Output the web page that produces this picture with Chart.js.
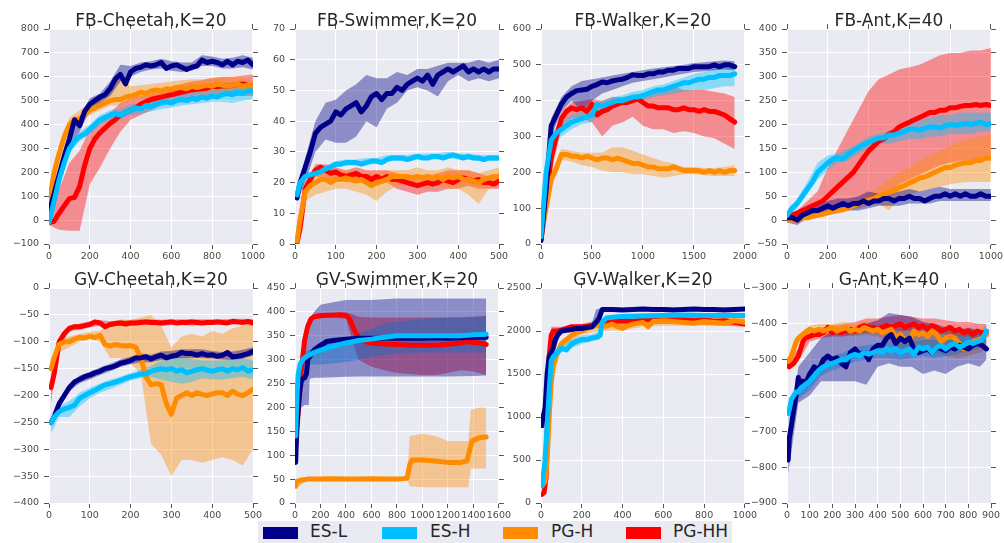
<!DOCTYPE html>
<html>
<head>
<meta charset="utf-8">
<script src="https://cdn.jsdelivr.net/npm/chart.js@4.4.1/dist/chart.umd.min.js"></script>
<style>
  body { margin: 0; background: #ffffff; }
  #wrap { position: relative; width: 1004px; height: 543px; overflow: hidden; }
  #wrap canvas { position: absolute; }
  #legend { position: absolute; left: 258px; top: 521px; width: 474px; height: 22px; background: #eaeaf2; }
  .sw { position: absolute; top: 6px; width: 35px; height: 12px; }
  .lab { position: absolute; top: 0; line-height: 22px; font: 17px "DejaVu Sans"; color: #262626; }
</style>
</head>
<body>
<div id="wrap"><div id="legend"></div></div>
<script>
// shared x grids
const x1000 = [0,25,50,75,100,125,150,175,200,225,250,275,300,325,350,375,400,425,450,475,500,525,550,575,600,625,650,675,700,725,750,775,800,825,850,875,900,925,950,975,1000];
const x1000Band = [0,50,100,150,200,250,300,350,400,450,500,550,600,650,700,750,800,850,900,950,1000];
const x500 = [5,12.5,25,37.5,50,62.5,75,87.5,100,112.5,125,137.5,150,162.5,175,187.5,200,212.5,225,237.5,250,262.5,275,287.5,300,312.5,325,337.5,350,362.5,375,387.5,400,412.5,425,437.5,450,462.5,475,487.5,500];
const x500Band = [5,25,50,75,100,125,150,175,200,225,250,275,300,325,350,375,400,425,450,475,500];
const x1900 = [0,50,100,150,200,250,300,350,400,450,500,550,600,650,700,750,800,850,900,950,1000,1050,1100,1150,1200,1250,1300,1350,1400,1450,1500,1550,1600,1650,1700,1750,1800,1850,1900];
const x1900Band = [0,100,200,300,400,500,600,700,800,900,1000,1100,1200,1300,1400,1500,1600,1700,1800,1900];

// FB-Cheetah
const fbcEsL = [30,110,190,270,340,420,395,455,485,500,515,525,550,590,610,570,620,635,640,650,645,650,660,635,645,650,640,630,640,645,670,660,665,660,650,665,650,665,660,670,650];
const fbcEsLLo = [10,170,310,370,460,490,520,580,600,620,630,635,625,620,625,645,645,635,635,640,630];
const fbcEsLHi = [50,210,370,430,510,530,580,650,645,660,665,675,665,660,660,690,685,675,680,690,680];
const fbcEsH = [-10,80,170,240,300,330,350,360,380,400,420,430,440,445,440,450,460,470,465,480,475,485,490,495,490,500,505,500,510,505,515,510,520,515,525,530,525,535,530,540,540];
const fbcEsHLo = [-30,150,280,330,360,400,420,420,440,445,455,465,470,480,485,490,495,495,490,500,505];
const fbcEsHHi = [10,190,320,370,400,440,460,465,485,490,500,515,515,530,535,540,545,555,555,560,565];
const fbcPgH = [70,200,280,350,400,420,425,440,460,470,480,490,500,505,505,515,520,525,535,530,540,545,540,550,545,555,555,550,560,555,560,565,560,570,565,560,565,570,560,565,560];
const fbcPgHLo = [50,250,380,410,440,460,480,480,495,505,510,515,520,525,530,530,535,530,535,530,530];
const fbcPgHHi = [90,310,430,460,490,520,550,600,560,565,570,575,580,585,590,590,595,595,595,595,590];
const fbcPgHH = [-10,-5,30,60,90,95,140,230,300,340,365,385,405,420,440,450,460,470,485,495,505,510,515,520,525,530,535,540,545,548,550,552,560,558,562,560,565,568,570,565,560];
const fbcPgHHLo = [-20,-40,-45,-45,150,220,300,370,420,440,460,480,490,500,505,510,515,520,520,520,520];
const fbcPgHHHi = [10,130,240,290,380,420,450,490,510,520,530,545,560,570,580,585,595,600,600,605,610];

// FB-Swimmer
const fbsEsL = [15,20,25,30,36,38,39,40,43,42,44,45,46,43,45,48,49,47,49,49,51,50,52,53,54,53,55,52,55,56,57,56,57,58,56,57,56,57,56,57,57];
const fbsEsLLo = [14,20,30,34,33,33,35,40,38,44,46,50,51,50,48,53,55,53,54,53,54];
const fbsEsLHi = [17,28,40,46,47,50,52,55,54,54,56,55,57,57,58,59,59,59,60,59,60];
const fbsEsH = [16,20,22,22.5,23,23.5,24.5,25,26,26,26.5,26.5,26.5,26,26.5,27,27,26.5,27.5,28,28,28,27.5,28,28.5,28,28,28.5,28.5,28,28.5,29,28.5,28,28.5,28,28,27.5,28,28,28];
const fbsEsHLo = [15,21,22,23.5,25,25.5,25.5,26,26,27,27,27,27.5,27.5,27.5,28,27.5,27.5,27,27,27];
const fbsEsHHi = [17,23,24,25.5,27,27.5,27.5,28,28,29,29,29,29.5,29.5,29.5,30,29.5,29.5,29,29,29];
const fbsPgH = [1,8,17,19,20,21,21,20,21,21,21.5,21,20.5,21,20,19,20,20.5,21,22,22,22,22,21.5,22,21.5,22,21.5,22,21,22,21.5,22,21,21,20.5,20,21,21.5,22,22];
const fbsPgHLo = [0,14,16,17,18,18,17,16,14,17,19,19,19,18,19,18,18,16,13,18,19];
const fbsPgHHi = [2,20,23,25,24,24,24,23,23,24,24,24,25,24,24,25,24,24,23,24,25];
const fbsPgHH = [0.5,5,18,21,24,25,24,23,23.5,22.5,22,22.5,23,22,22,21,22,21,22,21,21,20.5,20,19.5,19,19.5,20,19.5,20,21,20.5,20,21,21.5,21,20.5,21,20,20,19.5,20.5];
const fbsPgHHLo = [0,16,22,21,21,20,20,20,19,20,18,17,16,17,17,18,18,19,18,18,18];
const fbsPgHHHi = [1,20,26,26,25,24,25,24,24,24,23,22,22,22,23,24,24,24,23,22,23];

// FB-Walker
const fbwEsL = [10,150,330,360,390,410,420,428,430,432,440,445,452,450,455,458,460,465,472,470,470,475,475,480,480,485,485,490,490,490,495,495,495,495,500,495,500,500,495];
const fbwEsLLo = [5,300,370,400,370,400,420,430,440,450,455,460,465,470,475,480,482,485,487,485];
const fbwEsLHi = [15,350,410,440,455,460,465,470,475,480,485,490,493,497,500,505,507,510,512,510];
const fbwEsH = [20,200,290,310,320,330,340,345,350,355,360,390,385,390,395,400,400,405,410,410,415,420,425,430,430,435,440,445,450,450,455,460,460,465,465,470,470,470,475];
const fbwEsHLo = [10,270,300,320,335,340,370,380,385,395,400,410,415,420,425,430,430,435,440,440];
const fbwEsHHi = [30,310,340,360,370,380,400,410,415,425,430,440,445,455,465,475,480,490,495,500];
const fbwPgH = [20,100,180,210,250,250,245,245,240,245,240,235,240,240,235,240,235,230,225,225,220,215,215,210,210,210,215,210,205,205,205,205,200,205,200,205,200,205,205];
const fbwPgHLo = [10,160,235,230,220,215,205,200,200,195,195,190,185,190,195,195,192,190,190,190];
const fbwPgHHi = [30,200,265,260,255,255,255,270,270,260,250,240,230,225,215,215,212,212,215,220];
const fbwPgHH = [10,120,240,300,350,370,380,375,380,370,390,360,370,375,385,390,395,395,400,405,395,385,385,380,380,380,375,375,380,375,375,370,375,370,370,365,360,350,340];
const fbwPgHHLo = [5,200,320,350,350,340,300,330,340,355,330,320,320,310,315,310,300,295,280,265];
const fbwPgHHHi = [20,280,370,395,400,405,400,410,410,415,420,430,430,440,430,430,430,425,420,410];

// FB-Ant
const fbaEsL = [5,5,0,10,15,20,20,25,30,25,30,35,30,35,35,40,35,40,40,45,45,40,45,45,50,45,45,40,45,50,50,55,50,55,50,55,50,50,55,50,50];
const fbaEsLLo = [-5,-10,5,10,15,20,20,20,25,30,30,30,35,35,35,40,40,40,40,40,40];
const fbaEsLHi = [10,10,25,30,40,45,45,50,60,55,55,60,65,60,65,70,65,65,65,65,65];
const fbaEsH = [10,25,35,50,65,80,100,110,120,128,130,128,138,145,152,158,163,167,172,172,178,178,182,185,190,190,188,192,195,195,193,197,200,198,200,202,200,203,205,200,202];
const fbaEsHLo = [0,25,55,85,105,120,125,140,150,160,160,165,170,170,175,175,180,180,180,185,185];
const fbaEsHHi = [15,45,80,120,135,140,150,160,175,180,185,195,205,210,215,220,220,225,225,225,225];
const fbaPgH = [0,0,0,5,5,8,10,12,15,18,20,22,25,30,35,38,42,45,50,55,58,62,68,72,78,82,88,90,95,100,105,110,110,115,118,120,120,125,125,130,130];
const fbaPgHLo = [-5,-5,0,5,10,15,20,25,30,35,20,45,55,60,65,70,75,78,80,80,80];
const fbaPgHHi = [5,5,10,15,20,25,30,45,55,70,85,100,110,125,135,145,155,165,170,175,180];
const fbaPgHH = [5,10,15,20,25,30,35,40,50,60,70,80,90,100,115,130,145,155,165,170,180,185,195,200,205,210,215,220,225,225,230,230,235,235,238,240,240,242,240,242,240];
const fbaPgHHLo = [0,5,10,10,15,20,25,30,40,50,60,75,85,95,105,115,120,125,125,125,125];
const fbaPgHHHi = [10,20,40,60,110,150,190,230,270,295,305,315,320,325,335,345,350,350,355,355,360];

// GV-Cheetah
const gvcEsL = [-250,-240,-215,-200,-185,-175,-170,-165,-162,-158,-155,-150,-148,-145,-140,-138,-135,-130,-130,-128,-132,-128,-125,-130,-127,-125,-120,-122,-122,-125,-122,-125,-124,-127,-125,-120,-128,-127,-125,-122,-118];
const gvcEsLLo = [-258,-222,-192,-177,-170,-162,-155,-147,-142,-138,-138,-134,-131,-130,-130,-130,-131,-133,-134,-131,-126];
const gvcEsLHi = [-242,-208,-178,-163,-156,-148,-141,-133,-128,-122,-124,-118,-117,-114,-114,-114,-117,-119,-118,-115,-110];
const gvcEsH = [-250,-240,-230,-225,-222,-218,-205,-200,-195,-190,-185,-180,-178,-175,-172,-168,-165,-163,-160,-160,-155,-152,-150,-152,-150,-155,-152,-158,-155,-152,-150,-153,-155,-152,-150,-155,-150,-152,-148,-155,-152];
const gvcEsHLo = [-270,-240,-240,-220,-205,-195,-188,-180,-172,-168,-165,-170,-175,-178,-175,-168,-170,-170,-168,-165,-170];
const gvcEsHHi = [-240,-220,-210,-195,-185,-178,-170,-165,-158,-152,-145,-135,-130,-128,-132,-135,-135,-135,-133,-130,-135];
const gvcPgH = [-150,-130,-105,-100,-100,-95,-92,-93,-90,-92,-88,-105,-108,-105,-107,-108,-107,-110,-130,-165,-180,-178,-180,-215,-235,-205,-200,-195,-200,-195,-198,-200,-197,-195,-195,-200,-192,-198,-200,-195,-188];
const gvcPgHLo = [-160,-120,-110,-100,-95,-100,-130,-130,-140,-160,-290,-310,-350,-320,-320,-325,-320,-315,-320,-330,-300];
const gvcPgHHi = [-140,-95,-90,-85,-82,-80,-65,-58,-60,-55,-50,-70,-110,-90,-85,-90,-80,-85,-75,-70,-65];
const gvcPgHH = [-185,-160,-100,-85,-75,-72,-72,-70,-68,-63,-65,-72,-68,-66,-65,-67,-65,-65,-64,-63,-64,-64,-65,-64,-63,-65,-64,-64,-63,-64,-65,-64,-64,-63,-64,-65,-62,-63,-64,-62,-65];
const gvcPgHHLo = [-215,-110,-80,-78,-73,-70,-72,-70,-70,-69,-69,-70,-69,-69,-70,-69,-69,-68,-68,-68,-70];
const gvcPgHHHi = [-165,-92,-70,-66,-62,-60,-62,-60,-59,-58,-58,-59,-58,-58,-58,-58,-58,-58,-57,-57,-58];

// GV-Swimmer
const gvsEsLX = [5,15,25,40,50,60,75,90,100,125,150,200,250,300,400,500,600,700,800,900,1000,1100,1200,1300,1400,1500];
const gvsEsL = [85,160,200,240,255,260,262,270,300,310,320,330,338,340,343,345,345,345,345,345,345,346,345,346,347,347];
const gvsEsLBandX = [5,25,50,75,100,108,115,150,200,300,400,500,600,800,1000,1200,1400,1500];
const gvsEsLLo = [80,150,200,205,205,205,260,262,262,263,264,265,265,265,265,265,266,267];
const gvsEsLHi = [90,230,300,330,370,380,385,400,415,420,425,425,425,428,428,428,428,428];
const gvsEsHX = [5,15,25,40,60,80,100,150,200,300,400,500,600,700,800,900,1000,1100,1200,1300,1400,1500];
const gvsEsH = [140,220,270,290,300,305,308,315,320,328,335,340,343,347,350,350,350,350,350,350,352,353];
const gvsEsHBandX = [5,50,100,200,300,400,500,600,700,800,1000,1200,1400,1500];
const gvsEsHLo = [130,285,290,290,292,295,300,305,310,312,315,315,315,315];
const gvsEsHHi = [150,310,320,330,338,345,355,365,375,380,385,388,390,390];
const gvsPgHX = [5,15,50,100,200,300,400,500,600,700,800,850,880,900,920,950,1000,1100,1200,1300,1350,1370,1390,1450,1500];
const gvsPgH = [35,45,48,50,50,51,50,50,51,50,50,51,52,80,90,90,90,88,85,85,88,110,130,137,138];
const gvsPgHBandX = [5,100,500,880,900,1000,1100,1200,1360,1380,1450,1500];
const gvsPgHLo = [30,47,47,48,35,33,33,33,33,72,72,72];
const gvsPgHHi = [40,53,53,53,140,145,140,130,130,195,200,200];
const gvsPgHHX = [5,25,50,75,100,125,150,200,250,300,350,400,430,460,500,550,600,700,800,900,1000,1100,1200,1300,1350,1400,1450,1500];
const gvsPgHH = [120,190,280,340,370,385,390,392,393,393,394,393,385,365,345,338,335,333,332,330,330,330,332,335,338,336,335,332];
const gvsPgHHBandX = [5,50,100,150,200,300,400,450,500,600,700,800,900,1000,1100,1200,1300,1400,1500];
const gvsPgHHLo = [110,260,360,385,388,388,385,340,300,285,278,272,270,268,268,272,278,275,268];
const gvsPgHHHi = [130,300,380,395,397,398,398,395,390,388,388,388,388,388,388,388,388,390,392];

// GV-Walker
const gvwEsLX = [5,10,20,30,40,50,60,70,80,100,125,150,175,200,225,250,270,285,300,350,400,450,500,550,600,650,700,750,800,850,900,950,1000];
const gvwEsL = [900,1000,1100,1500,1700,1750,1800,1900,1950,2000,2010,2020,2030,2030,2040,2050,2100,2150,2250,2250,2245,2250,2255,2250,2250,2245,2250,2255,2250,2250,2245,2250,2255];
const gvwEsLBandX = [5,50,100,200,250,270,300,400,600,800,1000];
const gvwEsLLo = [850,1700,1970,2000,2020,2050,2220,2230,2230,2230,2235];
const gvwEsLHi = [1050,1800,2030,2060,2100,2250,2270,2270,2275,2270,2275];
const gvwEsHX = [5,10,20,30,40,50,60,80,100,125,150,175,200,225,250,275,290,300,320,350,400,500,600,700,800,900,1000];
const gvwEsH = [200,300,500,900,1300,1650,1700,1750,1800,1780,1850,1880,1900,1900,1920,1930,1950,2100,2150,2160,2170,2175,2180,2185,2180,2180,2180];
const gvwEsHBandX = [5,50,100,150,200,250,290,300,400,600,800,1000];
const gvwEsHLo = [150,1600,1750,1800,1850,1880,1900,2050,2140,2150,2150,2150];
const gvwEsHHi = [250,1700,1850,1900,1950,1960,2000,2150,2200,2210,2210,2210];
const gvwPgHX = [5,20,30,40,50,60,80,100,125,150,175,200,250,270,300,325,350,375,400,425,450,500,525,550,600,650,700,750,800,850,900,950,1000];
const gvwPgH = [200,250,500,1000,1400,1600,1750,1850,1900,1950,1980,2000,2050,2080,2050,2060,2080,2050,2030,2060,2080,2100,2050,2110,2120,2110,2100,2090,2110,2100,2090,2120,2100];
const gvwPgHBandX = [5,50,100,200,300,400,500,600,800,1000];
const gvwPgHLo = [150,1350,1800,1960,2000,2010,2050,2060,2060,2060];
const gvwPgHHi = [250,1450,1900,2040,2100,2100,2150,2160,2160,2150];
const gvwPgHHX = [5,15,25,30,35,40,50,60,80,100,150,200,250,300,350,400,450,500,550,600,650,700,750,800,850,900,950,1000];
const gvwPgHH = [100,120,300,800,1400,1700,1950,2000,2000,2010,2050,2050,2060,2100,2110,2120,2110,2130,2140,2130,2150,2130,2120,2130,2110,2120,2100,2080];
const gvwPgHHBandX = [5,50,100,200,300,500,700,1000];
const gvwPgHHLo = [80,1850,1970,2000,2050,2080,2080,2050];
const gvwPgHHHi = [150,2050,2050,2080,2140,2160,2160,2140];

// G-Ant
const gaX = [5,10,20,30,40,50,60,70,80,100,120,140,160,180,200,220,240,260,280,300,320,340,360,380,400,420,440,460,480,500,520,540,560,580,600,620,640,660,680,700,720,740,760,780,800,820,840,860,880];
const gaBandX = [5,50,100,150,200,250,300,350,400,450,500,550,600,650,700,750,800,850,880];
const gaEsL = [-780,-720,-680,-640,-600,-550,-580,-560,-570,-540,-520,-530,-500,-490,-500,-495,-510,-520,-480,-470,-485,-480,-500,-470,-460,-460,-440,-430,-455,-440,-450,-440,-470,-480,-475,-470,-480,-465,-470,-475,-465,-470,-460,-465,-470,-460,-455,-460,-470];
const gaEsLLo = [-820,-620,-600,-560,-560,-560,-560,-570,-520,-510,-520,-520,-540,-530,-540,-520,-510,-520,-500];
const gaEsLHi = [-740,-520,-480,-440,-420,-430,-410,-400,-390,-370,-375,-380,-395,-400,-410,-420,-410,-420,-430];
const gaEsH = [-650,-640,-610,-600,-590,-590,-580,-575,-570,-560,-545,-530,-520,-515,-510,-505,-500,-500,-490,-485,-490,-480,-485,-480,-475,-480,-470,-475,-470,-480,-475,-470,-485,-465,-470,-465,-480,-465,-460,-470,-460,-455,-465,-460,-450,-455,-450,-445,-420];
const gaEsHLo = [-680,-610,-585,-545,-530,-520,-505,-500,-495,-495,-500,-495,-490,-495,-490,-485,-475,-470,-450];
const gaEsHHi = [-620,-570,-540,-500,-490,-480,-465,-460,-455,-450,-455,-450,-445,-445,-440,-435,-430,-425,-400];
const gaPgH = [-505,-500,-490,-470,-450,-440,-435,-430,-425,-415,-420,-415,-420,-415,-410,-420,-415,-410,-420,-415,-420,-410,-415,-420,-415,-425,-420,-415,-440,-430,-445,-450,-420,-430,-425,-435,-420,-430,-450,-440,-435,-440,-455,-470,-460,-450,-445,-440,-430];
const gaPgHLo = [-520,-460,-430,-435,-430,-430,-435,-430,-435,-450,-470,-470,-480,-480,-490,-495,-490,-480,-470];
const gaPgHHi = [-490,-430,-405,-400,-400,-395,-400,-395,-400,-400,-405,-405,-400,-405,-410,-410,-415,-415,-405];
const gaPgHH = [-510,-520,-515,-510,-500,-490,-470,-450,-440,-435,-430,-430,-425,-410,-425,-420,-425,-420,-415,-420,-410,-405,-410,-410,-415,-410,-405,-410,-405,-400,-410,-405,-400,-410,-405,-415,-405,-410,-420,-415,-410,-420,-415,-425,-420,-430,-420,-425,-425];
const gaPgHHLo = [-525,-505,-450,-440,-435,-435,-430,-425,-425,-420,-420,-420,-425,-425,-430,-435,-435,-440,-440];
const gaPgHHHi = [-495,-470,-425,-410,-405,-400,-395,-385,-385,-380,-375,-380,-385,-385,-390,-395,-395,-400,-400];

const seriesKeys = ['esL', 'esH', 'pgH', 'pgHH'];
const seriesNames = ['ES-L', 'ES-H', 'PG-H', 'PG-HH'];
const lineColors = { esL: '#000088', esH: '#00bfff', pgH: '#ff8c00', pgHH: '#ff0000' };
const bandColors = { esL: 'rgba(0,0,136,0.4)', esH: 'rgba(0,191,255,0.4)', pgH: 'rgba(255,140,0,0.4)', pgHH: 'rgba(255,0,0,0.4)' };
const lineOrder = { esL: 2, esH: 1, pgH: 3, pgHH: 4 };

const panels = [
  { title: 'FB-Cheetah,K=20', col: 0, row: 0, x: [0, 1000, 200], y: [-100, 800, 100], series: [
    { key: 'esL', x: x1000, y: fbcEsL, bx: x1000Band, lo: fbcEsLLo, hi: fbcEsLHi },
    { key: 'esH', x: x1000, y: fbcEsH, bx: x1000Band, lo: fbcEsHLo, hi: fbcEsHHi },
    { key: 'pgH', x: x1000, y: fbcPgH, bx: x1000Band, lo: fbcPgHLo, hi: fbcPgHHi },
    { key: 'pgHH', x: x1000, y: fbcPgHH, bx: x1000Band, lo: fbcPgHHLo, hi: fbcPgHHHi } ] },
  { title: 'FB-Swimmer,K=20', col: 1, row: 0, x: [0, 500, 100], y: [0, 70, 10], series: [
    { key: 'esL', x: x500, y: fbsEsL, bx: x500Band, lo: fbsEsLLo, hi: fbsEsLHi },
    { key: 'esH', x: x500, y: fbsEsH, bx: x500Band, lo: fbsEsHLo, hi: fbsEsHHi },
    { key: 'pgH', x: x500, y: fbsPgH, bx: x500Band, lo: fbsPgHLo, hi: fbsPgHHi },
    { key: 'pgHH', x: x500, y: fbsPgHH, bx: x500Band, lo: fbsPgHHLo, hi: fbsPgHHHi } ] },
  { title: 'FB-Walker,K=20', col: 2, row: 0, x: [0, 2000, 500], y: [0, 600, 100], series: [
    { key: 'esL', x: x1900, y: fbwEsL, bx: x1900Band, lo: fbwEsLLo, hi: fbwEsLHi },
    { key: 'esH', x: x1900, y: fbwEsH, bx: x1900Band, lo: fbwEsHLo, hi: fbwEsHHi },
    { key: 'pgH', x: x1900, y: fbwPgH, bx: x1900Band, lo: fbwPgHLo, hi: fbwPgHHi },
    { key: 'pgHH', x: x1900, y: fbwPgHH, bx: x1900Band, lo: fbwPgHHLo, hi: fbwPgHHHi } ] },
  { title: 'FB-Ant,K=40', col: 3, row: 0, x: [0, 1000, 200], y: [-50, 400, 50], series: [
    { key: 'esL', x: x1000, y: fbaEsL, bx: x1000Band, lo: fbaEsLLo, hi: fbaEsLHi },
    { key: 'esH', x: x1000, y: fbaEsH, bx: x1000Band, lo: fbaEsHLo, hi: fbaEsHHi },
    { key: 'pgH', x: x1000, y: fbaPgH, bx: x1000Band, lo: fbaPgHLo, hi: fbaPgHHi },
    { key: 'pgHH', x: x1000, y: fbaPgHH, bx: x1000Band, lo: fbaPgHHLo, hi: fbaPgHHHi } ] },
  { title: 'GV-Cheetah,K=20', col: 0, row: 1, x: [0, 500, 100], y: [-400, 0, 50], series: [
    { key: 'esL', x: x500, y: gvcEsL, bx: x500Band, lo: gvcEsLLo, hi: gvcEsLHi },
    { key: 'esH', x: x500, y: gvcEsH, bx: x500Band, lo: gvcEsHLo, hi: gvcEsHHi },
    { key: 'pgH', x: x500, y: gvcPgH, bx: x500Band, lo: gvcPgHLo, hi: gvcPgHHi },
    { key: 'pgHH', x: x500, y: gvcPgHH, bx: x500Band, lo: gvcPgHHLo, hi: gvcPgHHHi } ] },
  { title: 'GV-Swimmer,K=20', col: 1, row: 1, x: [0, 1600, 200], y: [0, 450, 50], series: [
    { key: 'esL', x: gvsEsLX, y: gvsEsL, bx: gvsEsLBandX, lo: gvsEsLLo, hi: gvsEsLHi },
    { key: 'esH', x: gvsEsHX, y: gvsEsH, bx: gvsEsHBandX, lo: gvsEsHLo, hi: gvsEsHHi },
    { key: 'pgH', x: gvsPgHX, y: gvsPgH, bx: gvsPgHBandX, lo: gvsPgHLo, hi: gvsPgHHi },
    { key: 'pgHH', x: gvsPgHHX, y: gvsPgHH, bx: gvsPgHHBandX, lo: gvsPgHHLo, hi: gvsPgHHHi } ] },
  { title: 'GV-Walker,K=20', col: 2, row: 1, x: [0, 1000, 200], y: [0, 2500, 500], series: [
    { key: 'esL', x: gvwEsLX, y: gvwEsL, bx: gvwEsLBandX, lo: gvwEsLLo, hi: gvwEsLHi },
    { key: 'esH', x: gvwEsHX, y: gvwEsH, bx: gvwEsHBandX, lo: gvwEsHLo, hi: gvwEsHHi },
    { key: 'pgH', x: gvwPgHX, y: gvwPgH, bx: gvwPgHBandX, lo: gvwPgHLo, hi: gvwPgHHi },
    { key: 'pgHH', x: gvwPgHHX, y: gvwPgHH, bx: gvwPgHHBandX, lo: gvwPgHHLo, hi: gvwPgHHHi } ] },
  { title: 'G-Ant,K=40', col: 3, row: 1, x: [0, 900, 100], y: [-900, -300, 100], series: [
    { key: 'esL', x: gaX, y: gaEsL, bx: gaBandX, lo: gaEsLLo, hi: gaEsLHi },
    { key: 'esH', x: gaX, y: gaEsH, bx: gaBandX, lo: gaEsHLo, hi: gaEsHHi },
    { key: 'pgH', x: gaX, y: gaPgH, bx: gaBandX, lo: gaPgHLo, hi: gaPgHHi },
    { key: 'pgHH', x: gaX, y: gaPgHH, bx: gaBandX, lo: gaPgHHLo, hi: gaPgHHHi } ] }
];

// layout of the grid of plots (pixels)
const plotLefts = [49, 295, 541, 787];
const plotTops = [29, 288];
const PLOT_W = 204, PLOT_H = 215;
const AXIS_W = 46, RIGHT_W = 14, TOP_H = 29, BOTTOM_H = 22;

Chart.defaults.font.family = 'DejaVu Sans';

const plotBg = {
  id: 'plotBg',
  beforeDraw(chart) {
    const a = chart.chartArea;
    const ctx = chart.ctx;
    ctx.save();
    ctx.fillStyle = '#eaeaf2';
    ctx.fillRect(a.left, a.top, a.right - a.left, a.bottom - a.top);
    ctx.restore();
  }
};

function pts(xs, ys) {
  return xs.map((x, i) => ({ x: x, y: ys[i] }));
}

function fmt(v) {
  return String(v).replace('-', '\u2212');
}

function axis(pos, range, size, main) {
  const horiz = pos === 'top' || pos === 'bottom';
  return {
    type: 'linear',
    position: pos,
    min: range[0],
    max: range[1],
    afterFit: s => { if (horiz) s.height = size; else s.width = size; },
    border: { display: false },
    grid: {
      color: '#ffffff',
      lineWidth: 1,
      drawOnChartArea: main,
      drawTicks: true,
      tickLength: 5,
      tickColor: '#555555'
    },
    ticks: {
      display: main,
      stepSize: range[2],
      autoSkip: false,
      maxRotation: 0,
      minRotation: 0,
      padding: horiz ? 2 : 5,
      color: '#4a4a4a',
      font: { size: 9.5 },
      callback: fmt
    }
  };
}

const wrap = document.getElementById('wrap');

panels.forEach(p => {
  const canvas = document.createElement('canvas');
  const w = AXIS_W + PLOT_W + RIGHT_W;
  const h = TOP_H + PLOT_H + BOTTOM_H;
  canvas.width = w;
  canvas.height = h;
  canvas.style.left = (plotLefts[p.col] - AXIS_W) + 'px';
  canvas.style.top = (plotTops[p.row] - TOP_H) + 'px';
  wrap.appendChild(canvas);

  const datasets = [];
  p.series.forEach(s => {
    datasets.push({ data: pts(s.bx, s.lo), borderWidth: 0, borderColor: 'rgba(0,0,0,0)', pointRadius: 0, fill: false, order: 10 });
    datasets.push({ data: pts(s.bx, s.hi), borderWidth: 0, borderColor: 'rgba(0,0,0,0)', pointRadius: 0, fill: '-1', backgroundColor: bandColors[s.key], order: 10 });
    datasets.push({
      label: seriesNames[seriesKeys.indexOf(s.key)],
      data: pts(s.x, s.y),
      borderColor: lineColors[s.key],
      borderWidth: 5,
      borderJoinStyle: 'round',
      borderCapStyle: 'round',
      pointRadius: 0,
      fill: false,
      order: lineOrder[s.key]
    });
  });

  new Chart(canvas, {
    type: 'line',
    data: { datasets: datasets },
    options: {
      responsive: false,
      animation: false,
      devicePixelRatio: 1,
      layout: { padding: 0 },
      elements: { line: { tension: 0 } },
      plugins: {
        legend: { display: false },
        tooltip: { enabled: false },
        title: {
          display: true,
          text: p.title,
          fullSize: false,
          color: '#262626',
          font: { size: 17, weight: 'normal', lineHeight: '20px' },
          padding: { top: 12, bottom: -8 }
        }
      },
      scales: {
        x: axis('bottom', p.x, BOTTOM_H, true),
        x2: axis('top', p.x, 5, false),
        y: axis('left', p.y, AXIS_W, true),
        y2: axis('right', p.y, RIGHT_W, false)
      }
    },
    plugins: [plotBg]
  });
});

// legend under the grid
const legend = document.getElementById('legend');
const swatchLefts = [5, 124, 245, 368];
const labelLefts = [52, 172, 293, 415];
seriesKeys.forEach((k, i) => {
  const sw = document.createElement('div');
  sw.className = 'sw';
  sw.style.left = swatchLefts[i] + 'px';
  sw.style.background = lineColors[k];
  legend.appendChild(sw);
  const lab = document.createElement('div');
  lab.className = 'lab';
  lab.style.left = labelLefts[i] + 'px';
  lab.textContent = seriesNames[i];
  legend.appendChild(lab);
});
</script>
</body>
</html>
